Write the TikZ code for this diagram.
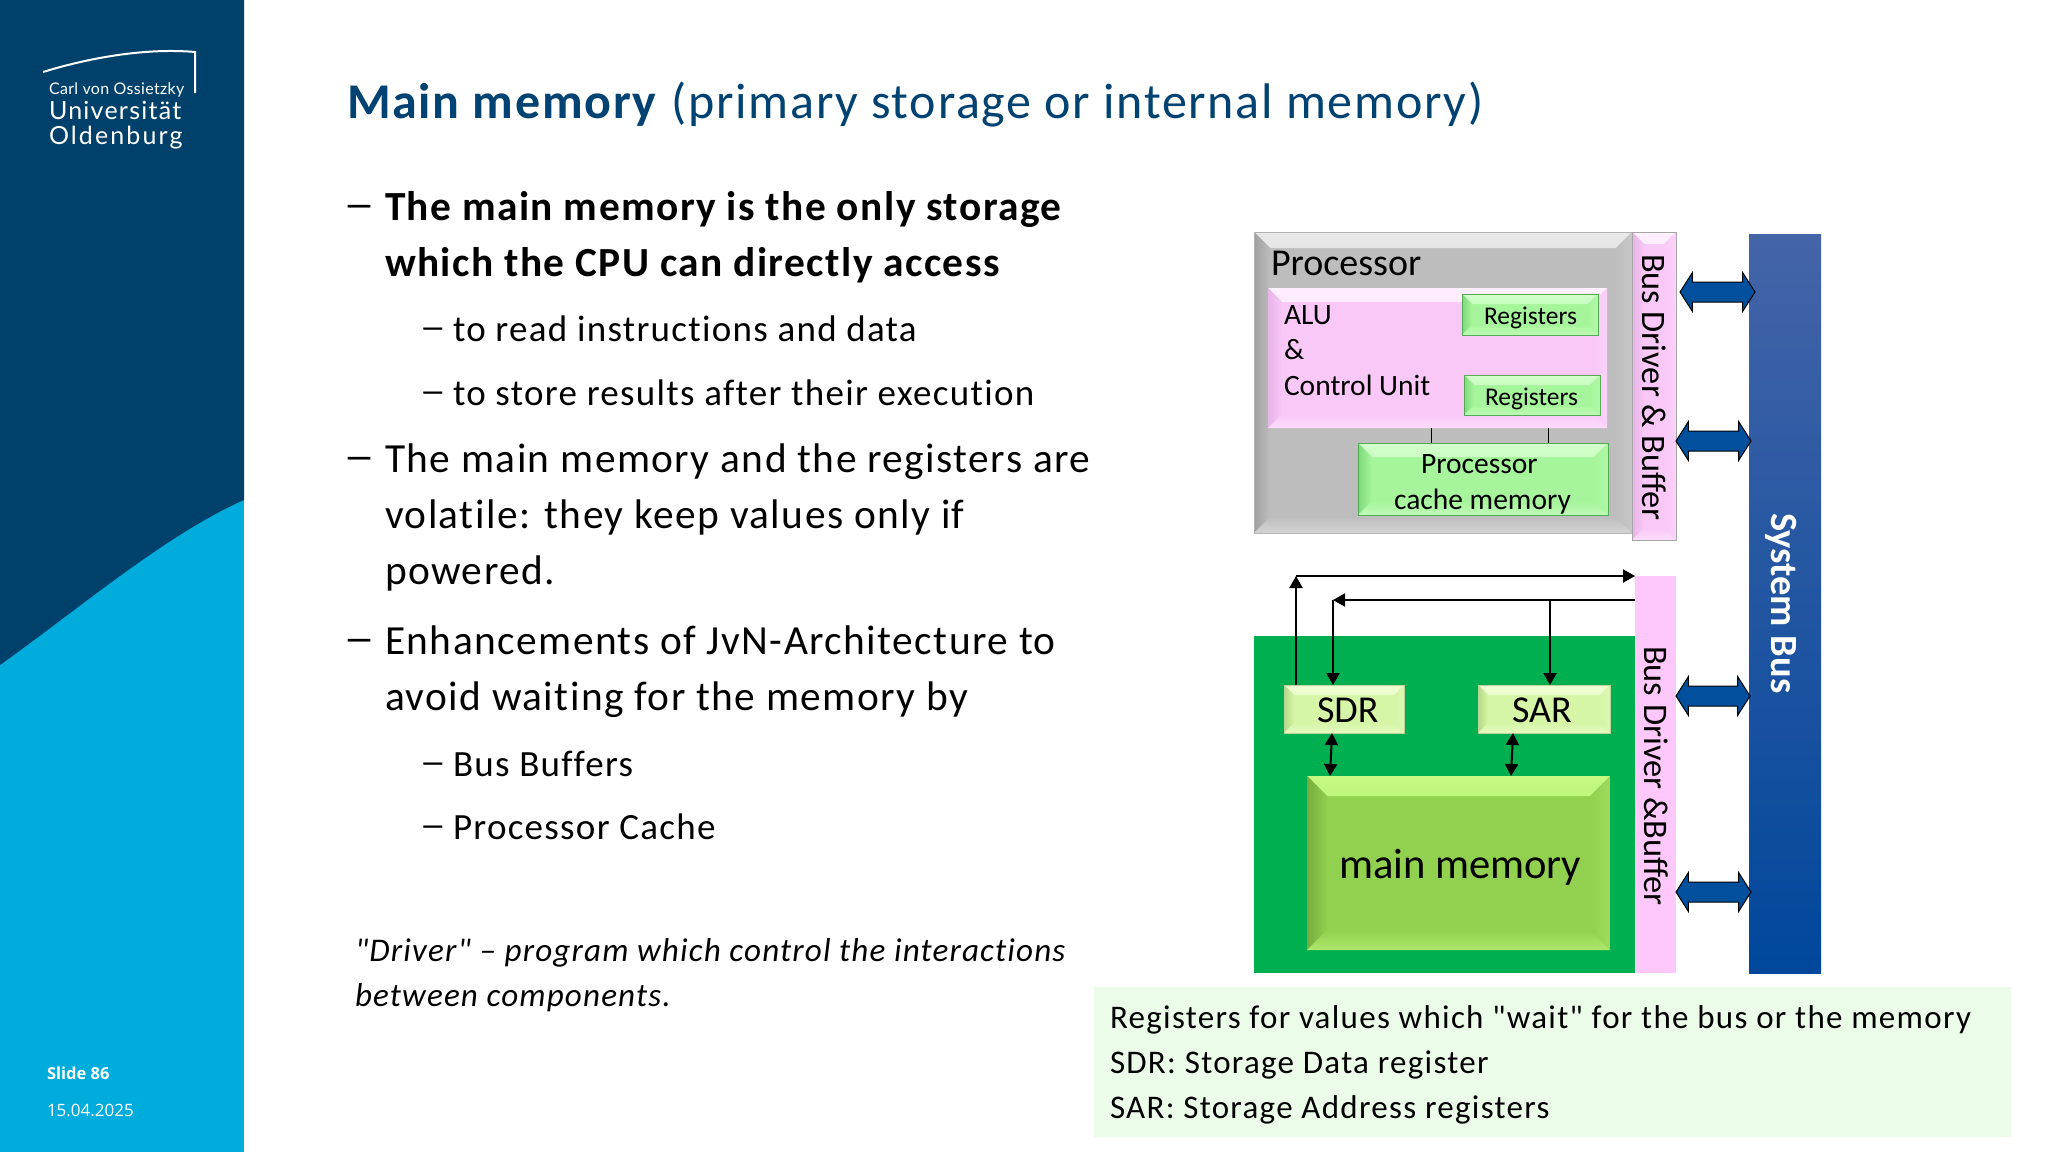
\documentclass[tikz,border=0pt]{standalone}
\usepackage{fontspec}
\usetikzlibrary{arrows.meta, shapes.arrows}
\setmainfont{Carlito}
\newfontfamily\spacedfont{Carlito}[LetterSpace=3.5, Ligatures=NoCommon]
\newfontfamily\notefont{Carlito}[LetterSpace=3.9, Ligatures=NoCommon]
\newfontfamily\logofont{Lato}[LetterSpace=5]
\newfontfamily\logowide{Lato}[LetterSpace=8.5]
\newfontfamily\logosmall{Lato}[LetterSpace=2]
\newfontfamily\sidefont{Open Sans}

\definecolor{oldenDark}{HTML}{00416C}
\definecolor{oldenLight}{HTML}{00ACDC}
\definecolor{titleBlue}{HTML}{004272}
\definecolor{greyBase}{HTML}{BDBDBD}
\definecolor{greyTop}{HTML}{E8E8E8}
\definecolor{greyLeft}{HTML}{A0A0A0}
\definecolor{pinkBase}{HTML}{F9C8F7}
\definecolor{pinkTop}{HTML}{FFEFFF}
\definecolor{pinkLeft}{HTML}{E6B4E6}
\definecolor{pinkFlat}{HTML}{FFC8FB}
\definecolor{regBase}{HTML}{A6F59C}
\definecolor{regTop}{HTML}{D4FFCC}
\definecolor{regLeft}{HTML}{7FD87C}
\definecolor{sBase}{HTML}{D6F5A6}
\definecolor{sTop}{HTML}{EFFFD6}
\definecolor{sLeft}{HTML}{B4D884}
\definecolor{mmBase}{HTML}{92D050}
\definecolor{mmTop}{HTML}{C4FA82}
\definecolor{mmLeft}{HTML}{76AC3E}
\definecolor{memGreen}{HTML}{00B050}
\definecolor{noteGreen}{HTML}{EBFDE9}
\definecolor{arrowBlue}{HTML}{00509E}
\definecolor{busTop}{HTML}{4464A8}
\definecolor{busMid}{HTML}{0A50A2}
\definecolor{busBot}{HTML}{00479B}

\tikzset{
    txt/.style={anchor=base west, inner sep=0pt, outer sep=0pt},
    heading/.style={txt, text=titleBlue, font=\spacedfont\fontsize{50}{58}\selectfont},
    point/.style={txt, font=\spacedfont\fontsize{41.4}{50}\selectfont},
    subpoint/.style={txt, font=\spacedfont\fontsize{37}{44}\selectfont},
    dashmain/.style={txt, yshift=5pt, font=\bfseries\fontsize{31}{32}\selectfont},
    dashsub/.style={txt, yshift=5pt, font=\bfseries\fontsize{26}{30}\selectfont},
    remark/.style={txt, font=\spacedfont\itshape\fontsize{33.1}{40}\selectfont},
    note/.style={txt, font=\notefont\fontsize{33}{40}\selectfont},
    label/.style={txt, font=\fontsize{#1}{#1}\selectfont},
    box/.style 2 args={anchor=north west, inner sep=0pt, outer sep=0pt, minimum width=#1, minimum height=#2},
    bevel/.style n args={4}{fill=#1, path picture={
        \shade[top color=#2, bottom color=#1] (path picture bounding box.north west) -- (path picture bounding box.north east)
            -- ([xshift=-#4,yshift=-#4]path picture bounding box.north east) -- ([xshift=#4,yshift=-#4]path picture bounding box.north west) -- cycle;
        \shade[left color=#3, right color=#1] (path picture bounding box.north west) -- (path picture bounding box.south west)
            -- ([xshift=#4,yshift=#4]path picture bounding box.south west) -- ([xshift=#4,yshift=-#4]path picture bounding box.north west) -- cycle;
        \shade[top color=#1, bottom color=#2!55!#1] (path picture bounding box.south west) -- (path picture bounding box.south east)
            -- ([xshift=-#4,yshift=#4]path picture bounding box.south east) -- ([xshift=#4,yshift=#4]path picture bounding box.south west) -- cycle;
        \shade[left color=#1, right color=#1!75!#2] (path picture bounding box.north east) -- (path picture bounding box.south east)
            -- ([xshift=-#4,yshift=#4]path picture bounding box.south east) -- ([xshift=-#4,yshift=-#4]path picture bounding box.north east) -- cycle;
    }},
    regbox/.style={bevel={regBase}{regTop}{regLeft}{#1}, draw=green!35!gray, line width=1pt},
    sbox/.style={bevel={sBase}{sTop}{sLeft}{#1}, draw=sBase!70!gray, line width=1pt},
    busarrow/.style={double arrow, draw=black, fill=arrowBlue, line width=1pt, inner sep=0pt, outer sep=0pt,
        text height=19pt, text depth=0pt, minimum height=#1, double arrow head extend=9.5pt, double arrow tip angle=115},
    wire/.style={line width=2pt, -{Triangle[length=12pt,width=13pt]}},
    wirebi/.style={line width=2pt, {Triangle[length=12pt,width=13pt]}-{Triangle[length=12pt,width=13pt]}},
}

\begin{document}
\begin{tikzpicture}[x=1pt, y=-1pt]
    \useasboundingbox (0,0) rectangle (2048,1152);
    \fill[white] (0,0) rectangle (2048,1152);

    % Sidebar
    \fill[oldenLight] (0,0) rectangle (244,1152);
    \fill[oldenDark] (0,0) -- (244,0) -- (244,500) .. controls (165,535) and (80,608) .. (0,665) -- cycle;
    \draw[white, line width=2pt] (43,72) .. controls (95,56) and (150,48) .. (195,52) -- (195,93);
    \node[txt, text=white, font=\logosmall\fontsize{16}{20}\selectfont] (carl) at (49,94) {Carl von Ossietzky};
    \node[txt, text=white, font=\logofont\fontsize{25}{28}\selectfont] (uni) at (49,119) {Universität};
    \node[txt, text=white, font=\logowide\fontsize{25}{28}\selectfont] (olden) at (49,144) {Oldenburg};
    \node[txt, text=white, font=\sidefont\bfseries\fontsize{16.5}{20}\selectfont] (slide) at (47,1079) {Slide 86};
    \node[txt, text=white, font=\sidefont\fontsize{17}{20}\selectfont] (date) at (47,1116) {15.04.2025};

    % Title
    \node[heading] (title) at (347,118) {\textbf{Main memory} (primary storage or internal memory)};

    % Text
    \node[dashmain] (d1) at (345,220) {—};
    \node[point] (p1a) at (385,220) {\textbf{The main memory is the only storage}};
    \node[point] (p1b) at (385,276) {\textbf{which the CPU can directly access}};
    \node[dashsub] (d1a) at (421,341) {—};
    \node[subpoint] (s1a) at (453,341) {to read instructions and data};
    \node[dashsub] (d1b) at (421,405) {—};
    \node[subpoint] (s1b) at (453,405) {to store results after their execution};
    \node[dashmain] (d2) at (345,472) {—};
    \node[point] (p2a) at (385,472) {The main memory and the registers are};
    \node[point] (p2b) at (385,528) {volatile: they keep values only if};
    \node[point] (p2c) at (385,584) {powered.};
    \node[dashmain] (d3) at (345,654) {—};
    \node[point] (p3a) at (385,654) {Enhancements of JvN-Architecture to};
    \node[point] (p3b) at (385,710) {avoid waiting for the memory by};
    \node[dashsub] (d3a) at (421,776) {—};
    \node[subpoint] (s3a) at (453,776) {Bus Buffers};
    \node[dashsub] (d3b) at (421,839) {—};
    \node[subpoint] (s3b) at (453,839) {Processor Cache};
    \node[remark] (r1) at (355,961) {"Driver" – program which control the interactions};
    \node[remark] (r2) at (355,1006) {between components.};

    % Note
    \node[box={917pt}{150pt}, fill=noteGreen] (notebox) at (1094,987) {};
    \node[note] (n1) at (1110,1028) {Registers for values which "wait" for the bus or the memory};
    \node[note] (n2) at (1110,1073) {SDR: Storage Data register};
    \node[note] (n3) at (1110,1118) {SAR: Storage Address registers};

    % Processor
    \node[box={378pt}{301pt}, bevel={greyBase}{greyTop}{greyLeft}{16pt}, draw=gray!60, line width=1pt] (proc) at (1254,232) {};
    \node[label=38] (proctext) at (1271,275) {Processor};
    \node[box={339pt}{140pt}, bevel={pinkBase}{pinkTop}{pinkLeft}{14pt}] (alu) at (1268,288) {};
    \node[label=29.5] (alutext) at (1284,324) {ALU};
    \node[label=29.5] (andtext) at (1284,359) {\&};
    \node[label=29.5] (ctrltext) at (1284,395) {Control Unit};
    \node[box={136pt}{41pt}, regbox=10pt] (rega) at (1462,294) {};
    \node[label=25.5] (regatext) at (1484,324) {Registers};
    \node[box={136pt}{40pt}, regbox=10pt] (regb) at (1464,375) {};
    \node[label=25.5] (regbtext) at (1485,405) {Registers};
    \node[box={250pt}{72pt}, regbox=14pt] (cache) at (1358,443) {};
    \node[label=29.5] (cacheup) at (1421,473) {Processor};
    \node[label=29.5] (cachelow) at (1394,509) {cache memory};
    \coordinate (linka) at (1431,428);
    \coordinate (linkb) at (1548,428);
    \draw[line width=1pt] (linka) -- (linka |- cache.north);
    \draw[line width=1pt] (linkb) -- (linkb |- cache.north);
    \node[box={44pt}{308pt}, bevel={pinkBase}{pinkTop}{pinkLeft}{12pt}, draw=gray!70, line width=1pt] (busa) at (1632,232) {};
    \node[txt, rotate=-90, font=\fontsize{34.3}{35}\selectfont] (busatext) at (1642,254) {Bus Driver \& Buffer};

    % Memory
    \node[box={381pt}{337pt}, fill=memGreen] (mem) at (1254,636) {};
    \node[box={41pt}{397pt}, fill=pinkFlat] (busb) at (1635,576) {};
    \node[txt, rotate=-90, font=\fontsize{34.4}{35}\selectfont] (busbtext) at (1644,646) {Bus Driver \&Buffer};
    \node[box={120pt}{48pt}, sbox=10pt] (sdr) at (1284,685) {};
    \node[label=38] (sdrtext) at (1317,722) {SDR};
    \node[box={132pt}{48pt}, sbox=10pt] (sar) at (1478,685) {};
    \node[label=38] (sartext) at (1512,722) {SAR};
    \node[box={303pt}{174pt}, bevel={mmBase}{mmTop}{mmLeft}{20pt}] (mainmem) at (1307,776) {};
    \node[label=42.6] (mmtext) at (1339,878) {main memory};

    % System bus
    \node[box={72pt}{739pt}, top color=busTop, middle color=busMid, bottom color=busBot] (sysbus) at (1749,234) {};
    \node[txt, rotate=-90, text=white, font=\bfseries\fontsize{38.5}{39}\selectfont] (systext) at (1771,513) {System Bus};

    % Block arrows
    \node[busarrow=75pt] (arra) at (1717.5,292) {};
    \node[busarrow=75pt] (arrb) at (1713.5,441) {};
    \node[busarrow=74pt] (arrc) at (1713,696) {};
    \node[busarrow=75pt] (arrd) at (1713.5,892) {};

    % Wires
    \coordinate (upc) at (1296,576);
    \coordinate (downc) at (1333,600);
    \coordinate (sarc) at (1550,600);
    \draw[wire] (upc |- sdr.north) -- (upc);
    \draw[wire] (upc) -- (upc -| busb.west);
    \draw[wire] (downc -| busb.west) -- (downc);
    \draw[wire] (downc) -- (downc |- sdr.north);
    \draw[wire] (sarc) -- (sarc |- sar.north);
    \draw[wirebi] ([xshift=-12pt]sdr.south) -- ([xshift=-128.5pt]mainmem.north);
    \draw[wirebi] ([xshift=-31pt]sar.south) -- ([xshift=52.5pt]mainmem.north);
\end{tikzpicture}
\end{document}
